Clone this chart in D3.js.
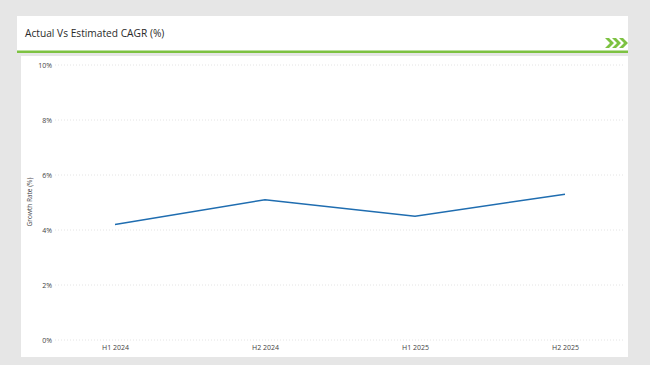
<!DOCTYPE html>
<html><head><meta charset="utf-8">
<script src="https://cdn.jsdelivr.net/npm/d3@7"></script>
<style>html,body{margin:0;padding:0;background:#e6e6e6;}svg{display:block;}</style>
</head><body>
<svg id="c" width="650" height="365"></svg>
<script>
const categories = ["H1 2024", "H2 2024", "H1 2025", "H2 2025"];
const growthRate = [4.2, 5.1, 4.5, 5.3];
const yTicks = [0, 2, 4, 6, 8, 10];
const chartTitle = "Actual Vs Estimated CAGR (%)";
const yTitle = "Growth Rate (%)";

const svg = d3.select("#c");
const font = "'Open Sans', 'Noto Sans', sans-serif";

// panels
svg.append("rect").attr("x", 17).attr("y", 16).attr("width", 611).attr("height", 35).attr("fill", "#fff");
svg.append("rect").attr("x", 17).attr("y", 50.5).attr("width", 611).attr("height", 2.5).attr("fill", "#7dc242");
svg.append("rect").attr("x", 21).attr("y", 56).attr("width", 607).attr("height", 301).attr("fill", "#fff");

svg.append("text").attr("x", 25).attr("y", 37).attr("font-family", font).attr("font-size", 10.2)
  .attr("fill", "#2a2a2a").text(chartTitle);

// chevrons
const chev = svg.append("g").attr("fill", "#7dc242");
[0, 7, 14].forEach(dx => {
  const x0 = 605 + dx;
  chev.append("path").attr("d", `M${x0},38 L${x0+4},38 L${x0+9},43 L${x0+4},48 L${x0},48 L${x0+5},43 Z`);
});

const y = d3.scaleLinear().domain([0, 10]).range([340, 65]);
const x = d3.scalePoint().domain(categories).range([40, 640]).padding(0.5);

// gridlines
svg.append("g").selectAll("line").data(yTicks).join("line")
  .attr("x1", 55).attr("x2", 625).attr("y1", d => y(d)).attr("y2", d => y(d))
  .attr("stroke", "#ddd").attr("stroke-width", 0.8).attr("stroke-dasharray", "1,2");

// y axis
const ya = svg.append("g").attr("transform", "translate(52,0)")
  .call(d3.axisLeft(y).tickValues(yTicks).tickFormat(d => d + "%").tickSize(0).tickPadding(0));
ya.select(".domain").remove();
ya.selectAll("text").attr("font-family", font).attr("font-size", 7).attr("fill", "#444");

// x axis
const xa = svg.append("g").attr("transform", "translate(0,343)")
  .call(d3.axisBottom(x).tickSize(0).tickPadding(2));
xa.select(".domain").remove();
xa.selectAll("text").attr("font-family", font).attr("font-size", 7).attr("fill", "#444");

// y title
svg.append("text").attr("transform", "translate(32,202) rotate(-90)").attr("text-anchor", "middle")
  .attr("font-family", font).attr("font-size", 6.5).attr("fill", "#444").text(yTitle);

// line
const line = d3.line().x((d, i) => x(categories[i])).y(d => y(d));
svg.append("path").datum(growthRate).attr("d", line).attr("fill", "none")
  .attr("stroke", "#1f6db0").attr("stroke-width", 1.5);
</script>
</body></html>
